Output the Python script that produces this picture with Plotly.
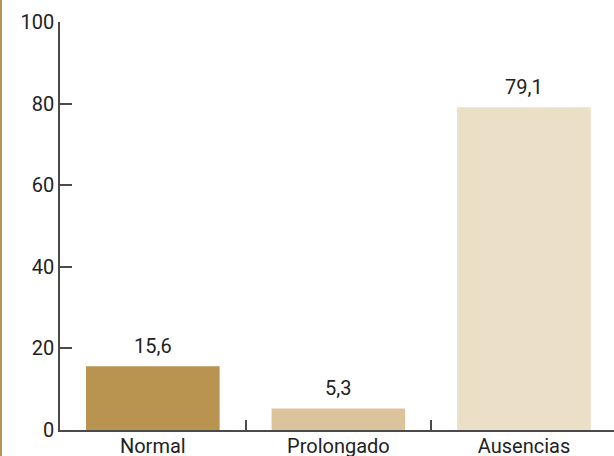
import plotly.graph_objects as go

# Data
categories = ["Normal", "Prolongado", "Ausencias"]
values = [15.6, 5.3, 79.1]
bar_colors = ["#B99450", "#DBC49B", "#EBDFC8"]
y_ticks = [0, 20, 40, 60, 80, 100]

FONT = "Roboto, 'Open Sans', sans-serif"
TEXT_COLOR = "#222222"
AXIS_COLOR = "#4a4a4a"
FONT_SIZE = 20

fig = go.Figure(
    go.Bar(
        x=categories,
        y=values,
        marker=dict(color=bar_colors, line=dict(width=0)),
        width=0.72,
        hoverinfo="skip",
    )
)

# Value labels above each bar
for cat, v in zip(categories, values):
    fig.add_annotation(
        x=cat,
        y=v,
        text=f"{v:.1f}".replace(".", ","),
        showarrow=False,
        yanchor="bottom",
        yshift=6,
        font=dict(family=FONT, size=FONT_SIZE, color=TEXT_COLOR),
    )

fig.update_layout(
    width=614,
    height=456,
    margin=dict(l=60, r=0, t=22, b=26, autoexpand=False),
    paper_bgcolor="white",
    plot_bgcolor="white",
    showlegend=False,
    font=dict(family=FONT, size=FONT_SIZE, color=TEXT_COLOR),
)

fig.update_xaxes(
    range=[-0.5, 2.485],
    automargin=False,
    showgrid=False,
    showline=True,
    linecolor=AXIS_COLOR,
    linewidth=1.5,
    ticks="inside",
    tickson="boundaries",
    ticklen=10,
    tickcolor=AXIS_COLOR,
    tickwidth=1.5,
    ticklabelstandoff=-3,
    tickfont=dict(family=FONT, size=FONT_SIZE, color=TEXT_COLOR),
    zeroline=False,
)

fig.update_yaxes(
    range=[0, 100],
    automargin=False,
    tickvals=y_ticks,
    showgrid=False,
    showline=True,
    linecolor=AXIS_COLOR,
    linewidth=1.5,
    ticks="inside",
    ticklen=12,
    tickcolor=AXIS_COLOR,
    tickwidth=1.5,
    tickfont=dict(family=FONT, size=FONT_SIZE, color=TEXT_COLOR),
    zeroline=False,
)

# Gold rule along the left edge of the page
fig.add_shape(
    type="rect",
    xref="paper",
    yref="paper",
    x0=-60 / 554,
    x1=-58 / 554,
    y0=-26 / 408,
    y1=1 + 22 / 408,
    fillcolor="#B99450",
    line=dict(width=0),
    layer="above",
)

fig.write_html("out.html")
